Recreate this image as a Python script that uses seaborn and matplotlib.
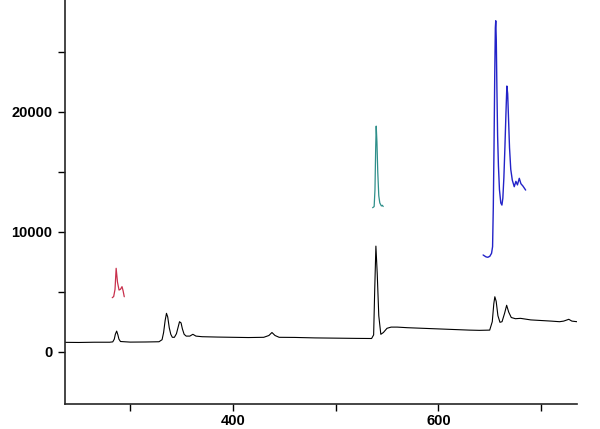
import numpy as np
import pandas as pd
import matplotlib
matplotlib.use("Agg")
import matplotlib.pyplot as plt
from matplotlib.ticker import MultipleLocator, FuncFormatter
import seaborn as sns

# Black spectrum
black_x = [236.5, 250, 265, 280, 283, 284.5, 285.5, 286.8, 288, 289, 290.5, 300, 315, 328, 331,
           332.5, 334, 335.3, 336.5, 338, 339.5, 341, 343, 345, 346.5, 348, 349.5, 350.8, 352.5,
           354.5, 358, 361, 364, 370, 385, 400, 415, 430, 435, 438, 441, 445, 460, 480, 500, 520,
           535, 537, 538, 539.2, 540.5, 542, 544, 546.5, 550, 554, 560, 570, 585, 600, 615, 630,
           640, 650, 652.5, 654, 655, 656.3, 658, 660, 662, 664.5, 666.5, 668.5, 671, 675, 680,
           690, 700, 710, 718, 722, 727, 730, 735]
black_y = [780, 770, 790, 790, 820, 1050, 1450, 1720, 1400, 1050, 850, 800, 810, 830, 1000,
           1600, 2600, 3200, 2900, 2000, 1450, 1200, 1200, 1500, 2000, 2500, 2400, 1900, 1450,
           1300, 1300, 1450, 1300, 1250, 1220, 1200, 1180, 1200, 1350, 1600, 1350, 1200, 1190,
           1150, 1130, 1110, 1100, 1400, 5000, 8800, 6500, 3000, 1450, 1600, 1950, 2050, 2050,
           2000, 1950, 1900, 1850, 1800, 1780, 1800, 2500, 4000, 4580, 4200, 3000, 2450, 2500,
           3200, 3870, 3300, 2850, 2750, 2780, 2650, 2600, 2550, 2500, 2550, 2700, 2550, 2500]

# Red segment
red_x = [282.5, 283.9, 285.2, 286.3, 287.6, 289.1, 290.5, 292.0, 293.0, 294.2]
red_y = [4500, 4600, 5200, 6950, 5800, 5140, 5200, 5420, 5100, 4580]

# Teal segment
teal_x = [536.0, 536.8, 537.5, 538.3, 539.0, 539.5, 540.2, 541.0, 542.0, 543.0, 544.5, 545.5, 546.3]
teal_y = [12000, 12050, 12100, 13500, 17000, 18800, 17500, 15000, 13000, 12400, 12150, 12200, 12100]

# Blue segment
blue_x = [643.6, 645.0, 646.5, 648.2, 650.1, 651.8, 652.8, 653.5, 654.2, 654.9, 655.5, 655.9,
          656.4, 657.0, 657.7, 658.5, 659.5, 660.8, 661.9, 662.8, 663.8, 664.8, 665.8, 666.7,
          667.5, 668.3, 669.3, 670.5, 672.0, 673.9, 675.5, 677.0, 678.8, 680.4, 682.4, 685.0]
blue_y = [8060, 7980, 7900, 7870, 7950, 8200, 8750, 12000, 17000, 23000, 27000, 27580,
          26000, 22000, 18000, 15500, 13500, 12400, 12220, 12800, 14500, 17000, 19800, 22140,
          21500, 19500, 17000, 15200, 14300, 13750, 14200, 13900, 14450, 14000, 13800, 13470]

sns.set_style("ticks")
plt.rcParams['font.family'] = ['Liberation Sans', 'DejaVu Sans']

fig = plt.figure(figsize=(6.0, 4.29), dpi=100)
ax = fig.add_axes([65/600, 1 - 404/429, (577 - 65)/600, 404/429])

sns.lineplot(x=black_x, y=black_y, ax=ax, color="black", linewidth=0.8, estimator=None)
sns.lineplot(x=red_x, y=red_y, ax=ax, color="#c8304c", linewidth=0.9, estimator=None)
sns.lineplot(x=teal_x, y=teal_y, ax=ax, color="#2f8f8a", linewidth=0.9, estimator=None)
sns.lineplot(x=blue_x, y=blue_y, ax=ax, color="#2323c8", linewidth=1.0, estimator=None)

ax.set_xlim(236.5, 735)
ax.set_ylim(-4358, 29310)

ax.xaxis.set_major_locator(MultipleLocator(100))
ax.yaxis.set_major_locator(MultipleLocator(5000))
ax.xaxis.set_major_formatter(FuncFormatter(lambda v, p: f"{int(round(v))}" if round(v) % 200 == 0 else ""))
ax.yaxis.set_major_formatter(FuncFormatter(lambda v, p: f"{int(round(v))}" if round(v) % 10000 == 0 else ""))

ax.tick_params(axis="both", direction="out", length=5, width=1, labelsize=10.5, colors="black")
ax.tick_params(axis="x", pad=2)
ax.tick_params(axis="y", pad=4)
for lbl in ax.get_xticklabels() + ax.get_yticklabels():
    lbl.set_fontweight("bold")

ax.spines["top"].set_visible(False)
ax.spines["right"].set_visible(False)
ax.spines["left"].set_linewidth(1.2)
ax.spines["bottom"].set_linewidth(1.2)
ax.set_xlabel("")
ax.set_ylabel("")

fig.savefig("out.png", dpi=100)
